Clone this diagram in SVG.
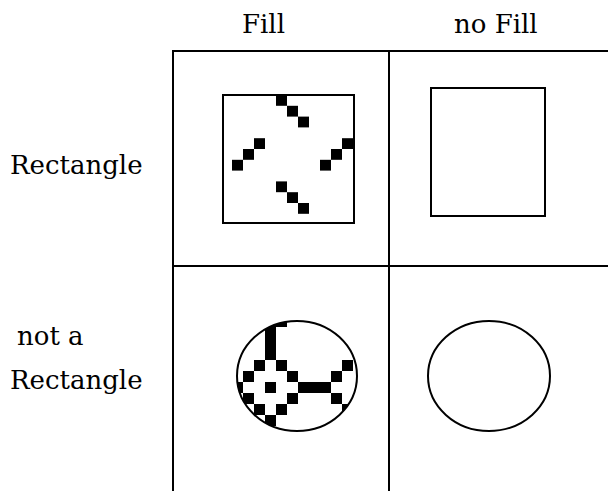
<svg xmlns="http://www.w3.org/2000/svg" width="608" height="491" viewBox="0 0 608 491">
  <style>
    .lbl { font-family: "DejaVu Serif", "Liberation Serif", serif; font-size: 26px; fill: #000; }
    .line { stroke: #000; stroke-width: 2; fill: none; }
    .shape { stroke: #000; stroke-width: 2; fill: #fff; }
    .px { fill: #000; }
  </style>
  <defs>
    <clipPath id="ellClip">
      <ellipse cx="297" cy="376" rx="60" ry="55"/>
    </clipPath>
  </defs>
  <rect width="608" height="491" fill="#fff"/>

  <!-- table grid -->
  <g id="grid">
    <line class="line" x1="172" y1="51" x2="608" y2="51"/>
    <line class="line" x1="173" y1="266" x2="608" y2="266"/>
    <line class="line" x1="173" y1="50" x2="173" y2="491"/>
    <line class="line" x1="389" y1="50" x2="389" y2="491"/>
  </g>

  <!-- column and row headings -->
  <g id="head-fill"><text class="lbl" x="242" y="33">Fill</text></g>
  <g id="head-nofill"><text class="lbl" x="454" y="33">no Fill</text></g>
  <g id="row-rect"><text class="lbl" x="10" y="174">Rectangle</text></g>
  <g id="row-notrect">
    <text class="lbl" x="17" y="345">not a</text>
    <text class="lbl" x="10" y="389">Rectangle</text>
  </g>

  <!-- rectangle with pixel fill pattern -->
  <g id="rect-fill">
    <rect class="shape" x="223" y="95" width="131" height="128"/>
    <rect class="px" x="276" y="95" width="11" height="10.8"/>
    <rect class="px" x="287" y="105.8" width="11" height="10.8"/>
    <rect class="px" x="298" y="116.6" width="11" height="10.8"/>
    <rect class="px" x="254" y="138.2" width="11" height="10.8"/>
    <rect class="px" x="243" y="149" width="11" height="10.8"/>
    <rect class="px" x="232" y="159.8" width="11" height="10.8"/>
    <rect class="px" x="342" y="138.2" width="11" height="10.8"/>
    <rect class="px" x="331" y="149" width="11" height="10.8"/>
    <rect class="px" x="320" y="159.8" width="11" height="10.8"/>
    <rect class="px" x="276" y="181.4" width="11" height="10.8"/>
    <rect class="px" x="287" y="192.2" width="11" height="10.8"/>
    <rect class="px" x="298" y="203" width="11" height="10.8"/>
  </g>

  <!-- rectangle without fill -->
  <g id="rect-nofill">
    <rect class="shape" x="431" y="88" width="114" height="128"/>
  </g>

  <!-- ellipse with pixel fill pattern -->
  <g id="ellipse-fill">
    <ellipse cx="297" cy="376" rx="60" ry="55" fill="#fff"/>
    <g clip-path="url(#ellClip)">
      <rect class="px" x="265" y="316" width="11" height="44"/>
      <rect class="px" x="276" y="316" width="11" height="11"/>
      <rect class="px" x="254" y="360" width="11" height="11"/>
      <rect class="px" x="276" y="360" width="11" height="11"/>
      <rect class="px" x="342" y="360" width="11" height="11"/>
      <rect class="px" x="243" y="371" width="11" height="11"/>
      <rect class="px" x="287" y="371" width="11" height="11"/>
      <rect class="px" x="331" y="371" width="11" height="11"/>
      <rect class="px" x="232" y="382" width="11" height="11"/>
      <rect class="px" x="265" y="382" width="11" height="11"/>
      <rect class="px" x="298" y="382" width="33" height="11"/>
      <rect class="px" x="243" y="393" width="11" height="11"/>
      <rect class="px" x="287" y="393" width="11" height="11"/>
      <rect class="px" x="331" y="393" width="11" height="11"/>
      <rect class="px" x="254" y="404" width="11" height="11"/>
      <rect class="px" x="276" y="404" width="11" height="11"/>
      <rect class="px" x="342" y="404" width="11" height="11"/>
      <rect class="px" x="265" y="415" width="11" height="11"/>
    </g>
    <ellipse class="line" cx="297" cy="376" rx="60" ry="55"/>
  </g>

  <!-- ellipse without fill -->
  <g id="ellipse-nofill">
    <ellipse class="shape" cx="489" cy="376" rx="61" ry="55"/>
  </g>
</svg>
